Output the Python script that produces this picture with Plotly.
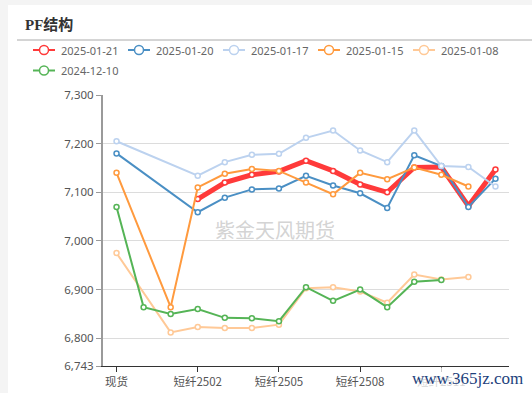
import plotly.graph_objects as go

categories = ["现货", "短纤2412", "短纤2501", "短纤2502", "短纤2503", "短纤2504", "短纤2505",
              "短纤2506", "短纤2507", "短纤2508", "短纤2509", "短纤2510", "短纤2511", "短纤2512", "短纤2601"]
tick_labels = ["现货", "短纤2502", "短纤2505", "短纤2508", "短纤2511"]

s_20250121 = [None, None, None, 7086, 7120, 7136, 7143, 7165, 7144, 7116, 7100, 7151, 7152, 7072, 7147]
s_20250120 = [7180, None, None, 7059, 7089, 7106, 7108, 7134, 7114, 7098, 7068, 7176, 7154, 7070, 7128]
s_20250117 = [7205, None, None, 7134, 7162, 7177, 7179, 7212, 7227, 7186, 7162, 7227, 7154, 7152, 7112]
s_20250115 = [7140, None, 6864, 7110, 7138, 7148, 7144, 7120, 7096, 7140, 7127, 7151, 7136, 7112, None]
s_20250108 = [6975, None, 6812, 6823, 6821, 6821, 6828, 6903, 6905, 6896, 6873, 6931, 6921, 6926, None]
s_20241210 = [7070, 6864, 6850, 6860, 6842, 6841, 6835, 6905, 6877, 6900, 6864, 6916, 6920, None, None]

series_names = ["2025-01-21", "2025-01-20", "2025-01-17", "2025-01-15", "2025-01-08", "2024-12-10"]
series_values = [s_20250121, s_20250120, s_20250117, s_20250115, s_20250108, s_20241210]
series_colors = ["#ff3a3a", "#4a8fc4", "#bcd2ef", "#ff9a3e", "#ffc997", "#55b456"]
series_widths = [5, 2, 2, 2, 2, 2]

y_ticks = [6743, 6800, 6900, 7000, 7100, 7200, 7300]

L, R, T, B = 103, 23, 95, 27
W, H = 532, 393
PW, PH = W - L - R, H - T - B

def px(x):
    return (x - L) / PW

def py(y):
    return (H - B - y) / PH

fig = go.Figure()

for name, vals, color, lw in zip(series_names, series_values, series_colors, series_widths):
    fig.add_trace(go.Scatter(
        x=categories, y=vals, name=name, mode="lines+markers",
        connectgaps=True, showlegend=False,
        line=dict(color=color, width=lw),
        marker=dict(symbol="circle", size=5, color="white",
                    line=dict(color=color, width=1.5)),
        hoverinfo="skip",
    ))

# legend (drawn as shapes + text)
shapes = [
    dict(type="rect", xref="paper", yref="paper", x0=px(8), x1=px(540), y0=py(5), y1=py(400),
         fillcolor="white", line=dict(width=0), layer="below"),
    dict(type="line", xref="paper", yref="paper", x0=px(17), x1=px(532), y0=py(40), y1=py(40),
         line=dict(color="#aaaaaa", width=1)),
]
annotations = []
for i, (name, color) in enumerate(zip(series_names, series_colors)):
    row, col = divmod(i, 5)
    x0 = 33 + 95 * col
    yc = 50 + 20.5 * row
    shapes.append(dict(type="line", xref="paper", yref="paper",
                       x0=px(x0), x1=px(x0 + 22), y0=py(yc), y1=py(yc),
                       line=dict(color=color, width=2)))
    r = 4.5
    cx = x0 + 11
    shapes.append(dict(type="circle", xref="paper", yref="paper",
                       x0=px(cx - r), x1=px(cx + r), y0=py(yc - r), y1=py(yc + r),
                       fillcolor="white", line=dict(color=color, width=1.5)))
    annotations.append(dict(text=name, xref="paper", yref="paper", x=px(x0 + 26), y=py(yc),
                            xanchor="left", yanchor="middle", showarrow=False,
                            font=dict(family="Noto Sans, sans-serif", size=11, color="#666")))

annotations += [
    dict(text="<b>PF结构</b>", xref="paper", yref="paper", x=px(23), y=py(25),
         xanchor="left", yanchor="middle", showarrow=False,
         font=dict(family="Liberation Serif, Noto Sans CJK SC, serif", size=15, color="#333")),
    dict(text="紫金天风期货", xref="paper", yref="paper", x=px(275), y=py(229),
         xanchor="center", yanchor="middle", showarrow=False,
         font=dict(family="Noto Sans CJK SC, sans-serif", size=20, color="rgba(200,200,200,0.8)")),
    dict(text="www.365jz.com", xref="paper", yref="paper", x=px(467), y=py(378),
         xanchor="center", yanchor="middle", showarrow=False,
         bgcolor="rgba(255,255,255,0.75)",
         font=dict(family="Liberation Serif, DejaVu Serif, serif", size=17, color="#1d3f7c")),
]

fig.update_layout(
    width=W, height=H,
    margin=dict(l=L, r=R, t=T, b=B, autoexpand=False),
    paper_bgcolor="#f4f4f4",
    plot_bgcolor="white",
    font=dict(family="Noto Sans CJK SC, Noto Sans, sans-serif", size=12, color="#555"),
    showlegend=False,
    xaxis=dict(
        type="category", categoryorder="array", categoryarray=categories,
        range=[-0.5, len(categories) - 0.5],
        tickmode="array", tickvals=tick_labels, ticktext=tick_labels,
        showgrid=False, showline=True, linecolor="#333", linewidth=1,
        ticks="outside", ticklen=5, tickcolor="#333",
        tickfont=dict(size=11.5, color="#555"), zeroline=False,
    ),
    yaxis=dict(
        range=[6743, 7300], tickmode="array", tickvals=y_ticks,
        ticktext=[f"{v:,}" for v in y_ticks],
        showgrid=True, gridcolor="#dcdcdc", gridwidth=1,
        showline=True, linecolor="#9a9a9a", linewidth=2,
        ticks="outside", ticklen=5, tickcolor="#9a9a9a",
        tickfont=dict(family="Noto Sans, sans-serif", size=11.5, color="#555"), zeroline=False,
    ),
    shapes=shapes,
    annotations=annotations,
)

fig.write_html("out.html", config={"displayModeBar": False},
               post_script="document.body.style.margin='0';")
